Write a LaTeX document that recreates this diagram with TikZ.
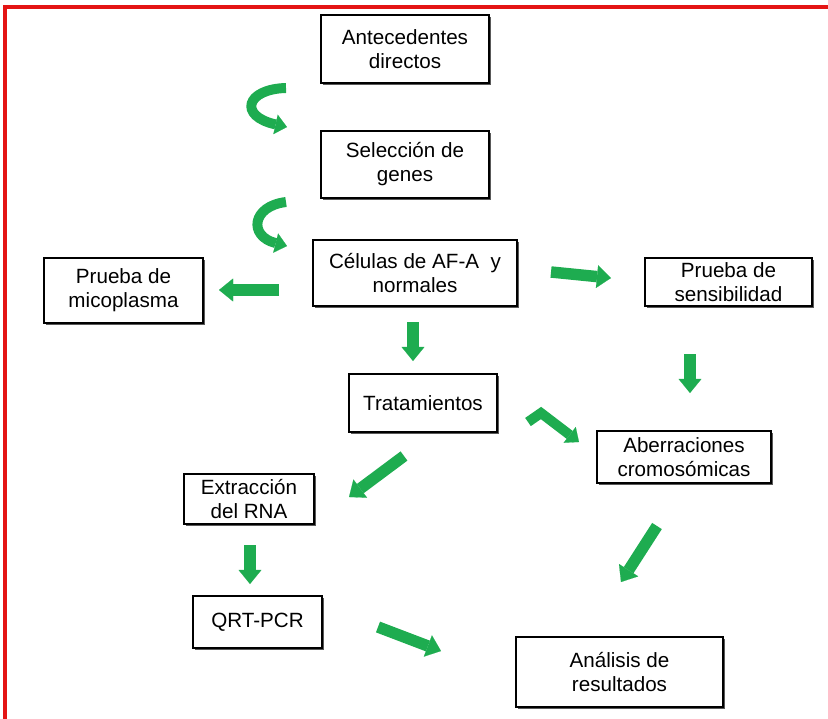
\documentclass[tikz,border=0pt]{standalone}
\usepackage{fontspec}
\setmainfont{Liberation Sans}
\usetikzlibrary{arrows.meta,shadows,positioning}
\definecolor{arrowGreen}{RGB}{30,172,80}
\definecolor{frameRed}{RGB}{228,20,20}

\begin{document}
\begin{tikzpicture}[x=0.03cm, y=-0.03cm,
    box/.style={shape=rectangle, draw=black, line width=1.5pt, fill=white, align=center, inner sep=2pt,
        font=\fontsize{17.6}{20.5}\selectfont,
        drop shadow={shadow xshift=1.3pt, shadow yshift=-1.3pt, fill=black!65, opacity=1}},
    blockarrow/.style={draw=arrowGreen, line width=9.8pt, -{Triangle[length=12pt, width=19.5pt, line width=0.1pt]}},
    curvearrow/.style={draw=arrowGreen, line width=8.5pt, -{Triangle[length=10pt, width=17pt, line width=0.1pt]}}]
    \useasboundingbox (0,0) rectangle (828,719);
    \draw [frameRed, line width=3pt] (5,719) -- (5,7) -- (828,7);

    % boxes
    \node (nAntecedentes) [box, minimum width=5.04cm, minimum height=2.04cm] at (405,49) {Antecedentes\\directos};
    \node (nSeleccion) [box, minimum width=5.04cm, minimum height=2.01cm] at (405,164.5) {Selección de\\genes};
    \node (nCelulas) [box, minimum width=6.12cm, minimum height=1.98cm] at (415,273) {Células de AF-A\ \ y\\normales};
    \node (nMicoplasma) [box, minimum width=4.77cm, minimum height=1.95cm] at (123.5,290.5) {Prueba de\\micoplasma};
    \node (nSensibilidad) [box, minimum width=5.01cm, minimum height=1.44cm] at (728.5,282) {Prueba de\\sensibilidad};
    \node (nTratamientos) [box, minimum width=4.44cm, minimum height=1.74cm] at (423,403) {Tratamientos};
    \node (nAberraciones) [box, minimum width=5.22cm, minimum height=1.56cm] at (684,457) {Aberraciones\\cromosómicas};
    \node (nExtraccion) [box, minimum width=3.9cm, minimum height=1.5cm] at (249,499) {Extracción\\del RNA};
    \node (nQrtPcr) [box, minimum width=3.87cm, minimum height=1.56cm] at (257.5,622) {QRT-PCR};
    \node (nAnalisis) [box, minimum width=6.21cm, minimum height=2.1cm] at (619.5,672) {Análisis de\\resultados};

    % arrow ends
    \coordinate (cCurveOneA) at (286,88);
    \coordinate (cCurveOneB) at (287,127);
    \coordinate (cCurveTwoA) at (286,202);
    \coordinate (cCurveTwoB) at (287,246);
    \coordinate (cMicoA) at (279,290);
    \coordinate (cMicoB) at (219,290);
    \coordinate (cSensA) at (551,272);
    \coordinate (cSensB) at (611,278);
    \coordinate (cTratA) at (413,322);
    \coordinate (cTratB) at (413,361);
    \coordinate (cAberrA) at (690,354);
    \coordinate (cAberrB) at (690,393);
    \coordinate (cBentA) at (528,422);
    \coordinate (cBentB) at (579,442);
    \coordinate (cExtrA) at (404,456);
    \coordinate (cExtrB) at (349,497);
    \coordinate (cQrtA) at (250,545);
    \coordinate (cQrtB) at (250,584);
    \coordinate (cResA) at (657,526);
    \coordinate (cResB) at (621,582);
    \coordinate (cAnalA) at (378,627);
    \coordinate (cAnalB) at (441,651);

    % green arrows
    \draw [curvearrow] (cCurveOneA) .. controls (246,89) and (238,116) .. (cCurveOneB);
    \draw [curvearrow] (cCurveTwoA) .. controls (252,206) and (248,236) .. (cCurveTwoB);
    \draw [blockarrow] (cMicoA) -- (cMicoB);
    \draw [blockarrow] (cSensA) -- (cSensB);
    \draw [blockarrow] (cTratA) -- (cTratB);
    \draw [blockarrow] (cAberrA) -- (cAberrB);
    \draw [curvearrow] (cBentA) -- (541,413) -- (cBentB);
    \draw [blockarrow] (cExtrA) -- (cExtrB);
    \draw [blockarrow] (cQrtA) -- (cQrtB);
    \draw [blockarrow] (cResA) -- (cResB);
    \draw [blockarrow] (cAnalA) -- (cAnalB);
\end{tikzpicture}
\end{document}
